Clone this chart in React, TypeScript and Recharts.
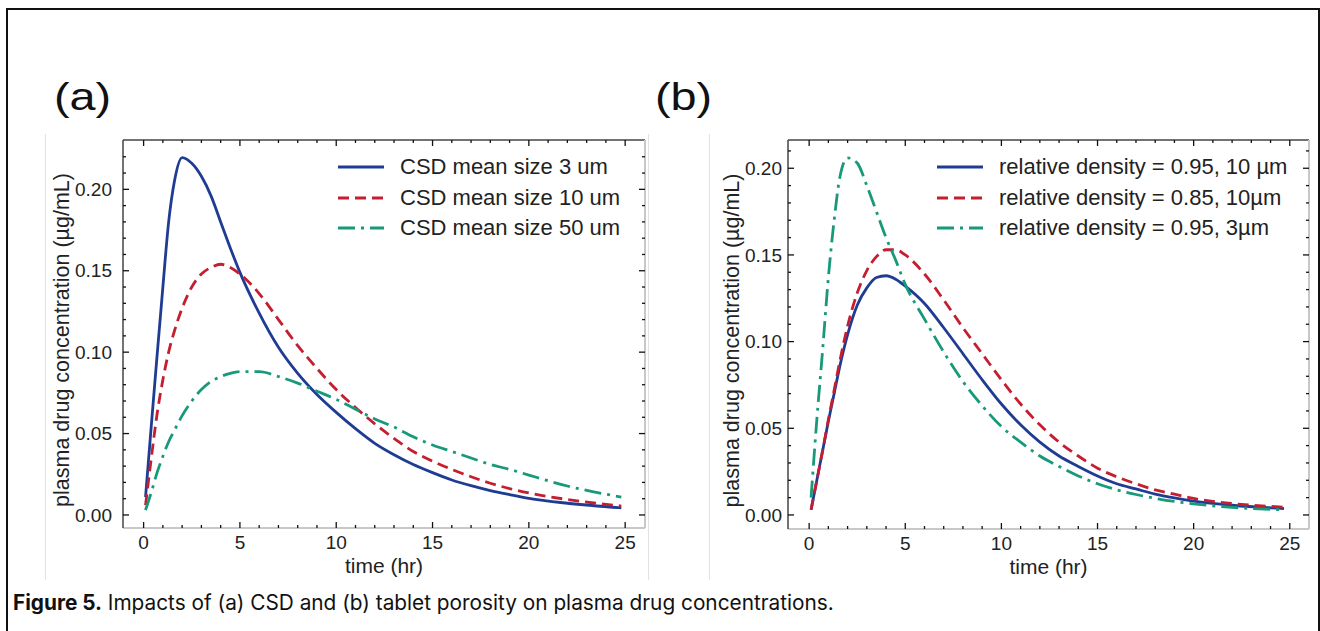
import React from "react";
import { LineChart, Line, XAxis, YAxis, ReferenceLine, Legend } from "recharts";

// (a) CSD mean size, time in hr, concentration in µg/mL
const timeA = [0.1, 0.4, 0.7, 1.0, 1.3, 1.6, 2.0, 2.5, 3.0, 3.5, 4.0, 4.5, 5.0, 6, 7, 8, 9, 10, 11, 12, 13, 14, 15, 16, 17, 18, 19, 20, 22, 24.8];
const csd3 = [0.011, 0.055, 0.098, 0.14, 0.18, 0.205, 0.2195, 0.216, 0.208, 0.196, 0.18, 0.164, 0.149, 0.124, 0.103, 0.087, 0.074, 0.063, 0.053, 0.044, 0.037, 0.031, 0.026, 0.0215, 0.018, 0.015, 0.0125, 0.0102, 0.0072, 0.0044];
const csd10 = [0.006, 0.035, 0.062, 0.083, 0.1, 0.113, 0.127, 0.14, 0.148, 0.152, 0.154, 0.152, 0.148, 0.136, 0.12, 0.104, 0.09, 0.077, 0.066, 0.056, 0.047, 0.039, 0.033, 0.028, 0.0235, 0.0195, 0.0162, 0.0135, 0.0095, 0.0055];
const csd50 = [0.003, 0.014, 0.026, 0.036, 0.045, 0.052, 0.061, 0.07, 0.077, 0.082, 0.085, 0.087, 0.088, 0.088, 0.085, 0.081, 0.076, 0.071, 0.065, 0.059, 0.054, 0.048, 0.043, 0.039, 0.035, 0.031, 0.028, 0.0245, 0.0178, 0.011];

// (b) tablet porosity
const timeB = [0.1, 0.4, 0.7, 1.0, 1.3, 1.6, 2.0, 2.5, 3.0, 3.5, 4.0, 4.5, 5.0, 6, 7, 8, 9, 10, 11, 12, 13, 14, 15, 16, 17, 18, 19, 20, 22, 24.7];
const rd95um10 = [0.003, 0.02, 0.037, 0.054, 0.07, 0.086, 0.104, 0.121, 0.131, 0.137, 0.138, 0.136, 0.132, 0.122, 0.108, 0.093, 0.078, 0.064, 0.052, 0.042, 0.034, 0.028, 0.0225, 0.018, 0.015, 0.012, 0.0098, 0.008, 0.0056, 0.0037];
const rd85um10 = [0.003, 0.02, 0.037, 0.055, 0.072, 0.089, 0.109, 0.128, 0.141, 0.149, 0.153, 0.153, 0.15, 0.139, 0.124, 0.108, 0.093, 0.078, 0.064, 0.052, 0.042, 0.034, 0.027, 0.022, 0.018, 0.0145, 0.012, 0.0095, 0.0066, 0.0045];
const rd95um3 = [0.01, 0.055, 0.095, 0.137, 0.17, 0.195, 0.206, 0.203, 0.19, 0.175, 0.16, 0.147, 0.133, 0.113, 0.094, 0.077, 0.063, 0.051, 0.042, 0.034, 0.028, 0.0225, 0.018, 0.0145, 0.0118, 0.0096, 0.0078, 0.0064, 0.0044, 0.003];

const namesA = ["CSD mean size 3 um", "CSD mean size 10 um", "CSD mean size 50 um"];
const namesB = ["relative density = 0.95, 10 µm", "relative density = 0.85, 10µm", "relative density = 0.95, 3µm"];

const xTicks = Array.from({ length: 26 }, (_, i) => i);
const BLUE = "#1f3c93";
const RED = "#c41f30";
const GREEN = "#17997a";
const styles = [
  { color: BLUE, dash: undefined },
  { color: RED, dash: "11 6" },
  { color: GREEN, dash: "17 6 3 6" },
];

const FONT = "'Liberation Sans', Arial, sans-serif";

type PanelProps = {
  left: number;
  times: number[];
  series: number[][];
  names: string[];
  xDomain: [number, number];
  yDomain: [number, number];
  yTickCount: number;
  plot: { left: number; right: number; top: number; bottom: number };
  labelGap: number;
  legendLeft: number;
};

const W = 660;
const H = 600;

function Panel(p: PanelProps) {
  const { plot } = p;
  const data = p.times.map((t, i) => ({ t, s0: p.series[0][i], s1: p.series[1][i], s2: p.series[2][i] }));
  const yTicks = Array.from({ length: p.yTickCount }, (_, i) => i / 100);

  const XTick = (props: any) => {
    const x = props.x;
    const v = props.payload.value;
    const major = v % 5 === 0;
    const len = major ? 6 : 3;
    return (
      <g>
        <line x1={x} x2={x} y1={plot.bottom} y2={plot.bottom - len} stroke="#111" strokeWidth={1.3} />
        <line x1={x} x2={x} y1={plot.top} y2={plot.top + len} stroke="#111" strokeWidth={1.3} />
        {major && (
          <text x={x} y={plot.bottom + 20.5} textAnchor="middle" fontSize={19} fontFamily={FONT} fill="#222">
            {v}
          </text>
        )}
      </g>
    );
  };

  const YTick = (props: any) => {
    const y = props.y;
    const v = props.payload.value;
    const major = Math.round(v * 100) % 5 === 0;
    const len = major ? 6 : 3;
    return (
      <g>
        <line x1={plot.left} x2={plot.left + len} y1={y} y2={y} stroke="#111" strokeWidth={1.3} />
        <line x1={plot.right} x2={plot.right - len} y1={y} y2={y} stroke="#111" strokeWidth={1.3} />
        {major && (
          <text x={plot.left - p.labelGap} y={y} dy="0.35em" textAnchor="end" fontSize={19} fontFamily={FONT} fill="#222">
            {v.toFixed(2)}
          </text>
        )}
      </g>
    );
  };

  const renderLegend = () => (
    <div style={{ fontFamily: FONT, fontSize: 22, color: "#222" }}>
      {p.names.map((n, i) => (
        <div key={n} style={{ display: "flex", alignItems: "center", height: 30.5 }}>
          <svg width={46} height={10} style={{ marginRight: 16 }}>
            <line x1={0} x2={46} y1={5} y2={5} stroke={styles[i].color} strokeWidth={2.8} strokeDasharray={styles[i].dash} />
          </svg>
          <span>{n}</span>
        </div>
      ))}
    </div>
  );

  return (
    <div style={{ position: "absolute", left: p.left, top: 0 }}>
      <LineChart
        width={W}
        height={H}
        data={data}
        margin={{ top: plot.top, right: W - plot.right, bottom: 0, left: 0 }}
      >
        <XAxis
          dataKey="t"
          type="number"
          domain={p.xDomain}
          allowDataOverflow
          ticks={xTicks}
          interval={0}
          height={H - plot.bottom}
          tickSize={0}
          tickMargin={0}
          tickLine={false}
          axisLine={{ stroke: "#c8c8c8", strokeWidth: 2 }}
          tick={XTick}
          label={({ viewBox }: any) => (
            <text
              x={viewBox.x + viewBox.width / 2}
              y={plot.bottom + 45}
              textAnchor="middle"
              fontSize={21}
              fontFamily={FONT}
              fill="#222"
            >
              time (hr)
            </text>
          )}
        />
        <YAxis
          type="number"
          domain={p.yDomain}
          allowDataOverflow
          ticks={yTicks}
          interval={0}
          width={plot.left}
          tickSize={0}
          tickMargin={0}
          tickLine={false}
          axisLine={{ stroke: "#444", strokeWidth: 1.5 }}
          tick={YTick}
          label={() => {
            const cx = plot.left - (p.labelGap + 51);
            const cy = (plot.top + plot.bottom) / 2 + 6;
            return (
              <text
                x={cx}
                y={cy}
                transform={`rotate(-90 ${cx} ${cy})`}
                textAnchor="middle"
                dy="0.35em"
                fontSize={21.5}
                fontFamily={FONT}
                fill="#222"
              >
                plasma drug concentration (µg/mL)
              </text>
            );
          }}
        />
        <ReferenceLine y={p.yDomain[1]} stroke="#444" strokeWidth={1.5} ifOverflow="visible" />
        <ReferenceLine x={p.xDomain[1]} stroke="#c8c8c8" strokeWidth={2} ifOverflow="visible" />
        {[0, 1, 2].map((i) => (
          <Line
            key={i}
            dataKey={`s${i}`}
            name={p.names[i]}
            type="monotone"
            stroke={styles[i].color}
            strokeWidth={2.8}
            strokeDasharray={styles[i].dash}
            dot={false}
            isAnimationActive={false}
          />
        ))}
        <Legend
          layout="horizontal"
          verticalAlign="middle"
          align="center"
          content={renderLegend}
          wrapperStyle={{ left: p.legendLeft, top: 152, bottom: "auto", width: "auto", height: "auto" }}
        />
      </LineChart>
    </div>
  );
}

const panelLabel: React.CSSProperties = {
  position: "absolute",
  top: 72,
  fontFamily: FONT,
  fontSize: 39,
  color: "#111",
  lineHeight: "50px",
  transform: "scaleX(1.2)",
  transformOrigin: "left center",
};

export default function App() {
  return (
    <div style={{ position: "relative", width: 1320, height: 631, overflow: "hidden", background: "#fff" }}>
      <style>{`body{margin:0}`}</style>
      <div
        style={{
          position: "absolute",
          left: 6,
          top: 8,
          width: 1310,
          height: 640,
          border: "2px solid #111",
        }}
      />
      <div style={{ position: "absolute", left: 45, top: 134, width: 602, height: 446, borderLeft: "1px solid #e2e2e2", borderRight: "1px solid #e2e2e2" }} />
      <div style={{ position: "absolute", left: 709, top: 134, width: 610, height: 446, borderLeft: "1px solid #e2e2e2" }} />
      <div style={{ ...panelLabel, left: 54 }}>(a)</div>
      <div style={{ ...panelLabel, left: 655 }}>(b)</div>
      <Panel
        left={0}
        times={timeA}
        series={[csd3, csd10, csd50]}
        names={namesA}
        xDomain={[-1.07, 26.03]}
        yDomain={[-0.008, 0.2303]}
        yTickCount={23}
        plot={{ left: 123, right: 645, top: 140, bottom: 528 }}
        labelGap={11}
        legendLeft={338}
      />
      <Panel
        left={660}
        times={timeB}
        series={[rd95um10, rd85um10, rd95um3]}
        names={namesB}
        xDomain={[-1.1, 26]}
        yDomain={[-0.0081, 0.2163]}
        yTickCount={22}
        plot={{ left: 128, right: 649, top: 140, bottom: 529 }}
        labelGap={6}
        legendLeft={277}
      />
      <div
        style={{
          position: "absolute",
          left: 13,
          top: 590,
          fontFamily: "Inter, 'Noto Sans', sans-serif",
          fontSize: 20.8,
          color: "#111",
          whiteSpace: "nowrap",
        }}
      >
        <b>Figure 5.</b> Impacts of (a) CSD and (b) tablet porosity on plasma drug concentrations.
      </div>
    </div>
  );
}
